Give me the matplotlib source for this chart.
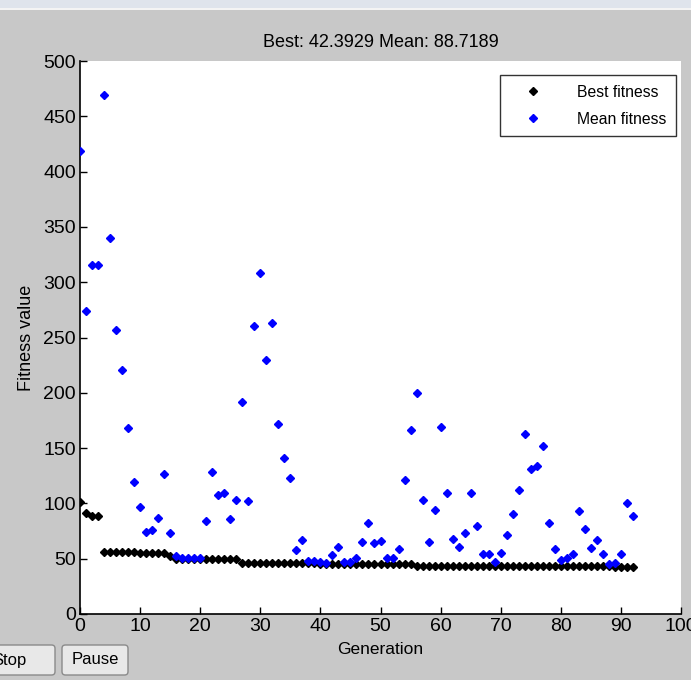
import matplotlib
matplotlib.use("Agg")
import matplotlib.pyplot as plt
from matplotlib.patches import Rectangle, FancyBboxPatch

plt.rcParams['font.family'] = ['Liberation Sans', 'DejaVu Sans']

generations = list(range(93))
best_fitness = [101.5, 91.6, 89, 89, 56, 56, 56, 56, 56, 56,
                55, 55, 55, 55, 55, 52, 50, 50, 50, 50,
                50, 50, 50, 50, 50, 50, 50, 46.5, 46.5, 46.5,
                46.5, 46.5, 46.5, 46.5, 46.5, 46.5, 46, 46, 46, 46,
                44.8, 44.8, 44.8, 44.8, 44.8, 44.8, 44.8, 44.8, 44.8, 44.8,
                44.8, 44.8, 44.8, 44.8, 44.8, 44.8, 43.3, 43.3, 43.3, 43.3,
                43.3, 43.3, 43.3, 43.3, 43.3, 43.3, 43.3, 43.3, 43.3, 43.3,
                43.3, 43.3, 43.3, 43.3, 43.3, 43.3, 43.3, 43.3, 43.3, 43.3,
                43.3, 43.3, 43.3, 43.3, 43.3, 43.3, 43.3, 43.3, 43.3, 42.3929,
                42.3929, 42.3929, 42.3929]
mean_fitness = [419, 274, 316, 316, 469, 340, 257, 221, 168, 119,
                97, 74, 76, 87, 127, 73, 52, 51, 51, 51,
                51, 84, 128, 108, 109, 86, 103, 192, 102, 260,
                308, 230, 263, 172, 141, 123, 58, 67, 48, 48,
                47, 46, 53, 61, 47, 47, 51, 65, 82, 64,
                66, 51, 51, 59, 121, 166, 200, 103, 65, 94,
                169, 109, 68, 61, 73, 109, 80, 54, 54, 47,
                55, 71, 90, 112, 163, 131, 134, 152, 82, 59,
                49, 51, 54, 93, 77, 60, 67, 54, 45, 46,
                54, 100, 88.7189]
title_text = "Best: 42.3929 Mean: 88.7189"
x_label = "Generation"
y_label = "Fitness value"
x_ticks = list(range(0, 101, 10))
y_ticks = list(range(0, 501, 50))

W, H = 691, 680
fig = plt.figure(figsize=(W / 100, H / 100), dpi=100)
bg = '#c8c8c8'
fig.patch.set_facecolor(bg)

# window frame strip at top
fig.patches.append(Rectangle((0, 1 - 8 / H), 1, 8 / H, transform=fig.transFigure,
                             facecolor='#dfe4ec', edgecolor='none', zorder=0))
fig.patches.append(Rectangle((0, 1 - 10 / H), 1, 2 / H, transform=fig.transFigure,
                             facecolor='#f4f4f4', edgecolor='none', zorder=0))

ax = fig.add_axes([80 / W, (H - 614) / H, (681 - 80) / W, (614 - 61) / H])
ax.set_facecolor('white')

ax.plot(generations, best_fitness, linestyle='none', marker='D', markersize=4.2,
        color='black', label='Best fitness', zorder=3)
ax.plot(generations, mean_fitness, linestyle='none', marker='D', markersize=4.2,
        color='#0000ff', label='Mean fitness', zorder=4)

ax.set_xlim(0, 100)
ax.set_ylim(0, 500)
ax.set_xticks(x_ticks)
ax.set_yticks(y_ticks)
ax.tick_params(direction='in', length=5, width=1, labelsize=14, colors='black', pad=3)
for s in ['top', 'right']:
    ax.spines[s].set_visible(False)
for s in ['left', 'bottom']:
    ax.spines[s].set_linewidth(1.2)
    ax.spines[s].set_color('black')

ax.set_xlabel(x_label, fontsize=12.5, labelpad=5)
ax.set_ylabel(y_label, fontsize=13, labelpad=6)
ax.set_title(title_text, fontsize=13, pad=10)

leg = ax.legend(loc='upper right', bbox_to_anchor=(0.992, 0.974), borderaxespad=0,
                fontsize=11.3, frameon=True, fancybox=False, edgecolor='black',
                borderpad=0.6, handlelength=3.0, handletextpad=1.3,
                labelspacing=0.75)
leg.get_frame().set_linewidth(1.0)

# Buttons at bottom-left
for (x0, w, label, tx) in [(-20, 75, 'Stop', 9), (62, 66, 'Pause', 95)]:
    fig.patches.append(FancyBboxPatch((x0 / W, (H - 675) / H), w / W, 30 / H,
                                      boxstyle='round,pad=0,rounding_size=0.005',
                                      transform=fig.transFigure,
                                      facecolor='#e8e8e8', edgecolor='#8a8a8a',
                                      linewidth=1.0, zorder=1))
    fig.text(tx / W, (H - 660) / H, label, ha='center', va='center', fontsize=12)

fig.savefig('out.png', dpi=100, facecolor=fig.get_facecolor())
